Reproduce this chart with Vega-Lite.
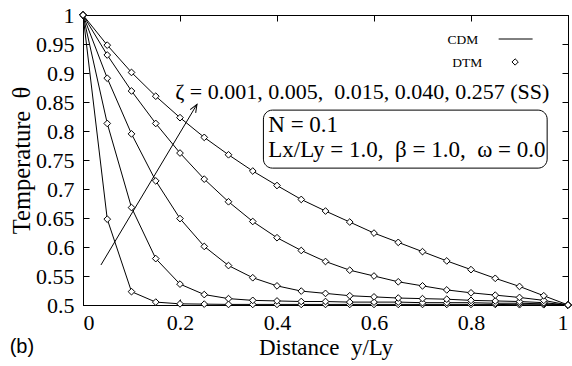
{
  "$schema": "https://vega.github.io/schema/vega-lite/v6.json",
  "width": 485,
  "height": 290,
  "autosize": {"type": "none"},
  "padding": {"left": 83, "top": 15, "right": 4, "bottom": 61},
  "background": "white",
  "config": {
    "view": {"stroke": "black", "strokeWidth": 1},
    "axis": {
      "grid": false,
      "domainColor": "black",
      "tickColor": "black",
      "labelColor": "black",
      "titleColor": "black",
      "labelFont": "Liberation Serif",
      "titleFont": "Liberation Serif",
      "labelFontSize": 22,
      "titleFontSize": 23,
      "titleFontWeight": "normal",
      "tickSize": -6
    }
  },
  "datasets": {
    "curves": [
      {"zeta": "0.001", "x": 0, "y": 1}, {"zeta": "0.001", "x": 0.05, "y": 0.648}, {"zeta": "0.001", "x": 0.1, "y": 0.523}, {"zeta": "0.001", "x": 0.15, "y": 0.505}, {"zeta": "0.001", "x": 0.2, "y": 0.502}, {"zeta": "0.001", "x": 0.25, "y": 0.5015}, {"zeta": "0.001", "x": 0.3, "y": 0.501}, {"zeta": "0.001", "x": 0.35, "y": 0.501}, {"zeta": "0.001", "x": 0.4, "y": 0.501}, {"zeta": "0.001", "x": 0.45, "y": 0.501}, {"zeta": "0.001", "x": 0.5, "y": 0.501}, {"zeta": "0.001", "x": 0.55, "y": 0.501}, {"zeta": "0.001", "x": 0.6, "y": 0.501}, {"zeta": "0.001", "x": 0.65, "y": 0.501}, {"zeta": "0.001", "x": 0.7, "y": 0.501}, {"zeta": "0.001", "x": 0.75, "y": 0.501}, {"zeta": "0.001", "x": 0.8, "y": 0.501}, {"zeta": "0.001", "x": 0.85, "y": 0.501}, {"zeta": "0.001", "x": 0.9, "y": 0.5005}, {"zeta": "0.001", "x": 0.95, "y": 0.5005}, {"zeta": "0.001", "x": 1, "y": 0.5},
      {"zeta": "0.005", "x": 0, "y": 1}, {"zeta": "0.005", "x": 0.05, "y": 0.813}, {"zeta": "0.005", "x": 0.1, "y": 0.668}, {"zeta": "0.005", "x": 0.15, "y": 0.58}, {"zeta": "0.005", "x": 0.2, "y": 0.536}, {"zeta": "0.005", "x": 0.25, "y": 0.518}, {"zeta": "0.005", "x": 0.3, "y": 0.511}, {"zeta": "0.005", "x": 0.35, "y": 0.508}, {"zeta": "0.005", "x": 0.4, "y": 0.507}, {"zeta": "0.005", "x": 0.45, "y": 0.506}, {"zeta": "0.005", "x": 0.5, "y": 0.506}, {"zeta": "0.005", "x": 0.55, "y": 0.505}, {"zeta": "0.005", "x": 0.6, "y": 0.505}, {"zeta": "0.005", "x": 0.65, "y": 0.505}, {"zeta": "0.005", "x": 0.7, "y": 0.504}, {"zeta": "0.005", "x": 0.75, "y": 0.504}, {"zeta": "0.005", "x": 0.8, "y": 0.504}, {"zeta": "0.005", "x": 0.85, "y": 0.503}, {"zeta": "0.005", "x": 0.9, "y": 0.503}, {"zeta": "0.005", "x": 0.95, "y": 0.502}, {"zeta": "0.005", "x": 1, "y": 0.5},
      {"zeta": "0.015", "x": 0, "y": 1}, {"zeta": "0.015", "x": 0.05, "y": 0.891}, {"zeta": "0.015", "x": 0.1, "y": 0.795}, {"zeta": "0.015", "x": 0.15, "y": 0.714}, {"zeta": "0.015", "x": 0.2, "y": 0.649}, {"zeta": "0.015", "x": 0.25, "y": 0.601}, {"zeta": "0.015", "x": 0.3, "y": 0.568}, {"zeta": "0.015", "x": 0.35, "y": 0.547}, {"zeta": "0.015", "x": 0.4, "y": 0.533}, {"zeta": "0.015", "x": 0.45, "y": 0.524}, {"zeta": "0.015", "x": 0.5, "y": 0.52}, {"zeta": "0.015", "x": 0.55, "y": 0.516}, {"zeta": "0.015", "x": 0.6, "y": 0.514}, {"zeta": "0.015", "x": 0.65, "y": 0.512}, {"zeta": "0.015", "x": 0.7, "y": 0.511}, {"zeta": "0.015", "x": 0.75, "y": 0.51}, {"zeta": "0.015", "x": 0.8, "y": 0.508}, {"zeta": "0.015", "x": 0.85, "y": 0.507}, {"zeta": "0.015", "x": 0.9, "y": 0.506}, {"zeta": "0.015", "x": 0.95, "y": 0.504}, {"zeta": "0.015", "x": 1, "y": 0.5},
      {"zeta": "0.040", "x": 0, "y": 1}, {"zeta": "0.040", "x": 0.05, "y": 0.931}, {"zeta": "0.040", "x": 0.1, "y": 0.869}, {"zeta": "0.040", "x": 0.15, "y": 0.813}, {"zeta": "0.040", "x": 0.2, "y": 0.762}, {"zeta": "0.040", "x": 0.25, "y": 0.717}, {"zeta": "0.040", "x": 0.3, "y": 0.678}, {"zeta": "0.040", "x": 0.35, "y": 0.644}, {"zeta": "0.040", "x": 0.4, "y": 0.616}, {"zeta": "0.040", "x": 0.45, "y": 0.594}, {"zeta": "0.040", "x": 0.5, "y": 0.575}, {"zeta": "0.040", "x": 0.55, "y": 0.56}, {"zeta": "0.040", "x": 0.6, "y": 0.55}, {"zeta": "0.040", "x": 0.65, "y": 0.54}, {"zeta": "0.040", "x": 0.7, "y": 0.533}, {"zeta": "0.040", "x": 0.75, "y": 0.526}, {"zeta": "0.040", "x": 0.8, "y": 0.521}, {"zeta": "0.040", "x": 0.85, "y": 0.517}, {"zeta": "0.040", "x": 0.9, "y": 0.513}, {"zeta": "0.040", "x": 0.95, "y": 0.508}, {"zeta": "0.040", "x": 1, "y": 0.5},
      {"zeta": "0.257", "x": 0, "y": 1}, {"zeta": "0.257", "x": 0.05, "y": 0.948}, {"zeta": "0.257", "x": 0.1, "y": 0.901}, {"zeta": "0.257", "x": 0.15, "y": 0.86}, {"zeta": "0.257", "x": 0.2, "y": 0.823}, {"zeta": "0.257", "x": 0.25, "y": 0.789}, {"zeta": "0.257", "x": 0.3, "y": 0.759}, {"zeta": "0.257", "x": 0.35, "y": 0.731}, {"zeta": "0.257", "x": 0.4, "y": 0.706}, {"zeta": "0.257", "x": 0.45, "y": 0.682}, {"zeta": "0.257", "x": 0.5, "y": 0.662}, {"zeta": "0.257", "x": 0.55, "y": 0.643}, {"zeta": "0.257", "x": 0.6, "y": 0.624}, {"zeta": "0.257", "x": 0.65, "y": 0.608}, {"zeta": "0.257", "x": 0.7, "y": 0.592}, {"zeta": "0.257", "x": 0.75, "y": 0.576}, {"zeta": "0.257", "x": 0.8, "y": 0.561}, {"zeta": "0.257", "x": 0.85, "y": 0.546}, {"zeta": "0.257", "x": 0.9, "y": 0.532}, {"zeta": "0.257", "x": 0.95, "y": 0.516}, {"zeta": "0.257", "x": 1, "y": 0.5}
    ],
    "arrow": [{"x": 0.037, "y": 0.569}, {"x": 0.235, "y": 0.846}],
    "arrowhead": [{"x": 0.235, "y": 0.846}],
    "zetaLabel": [{"x": 0.19, "y": 0.855, "label": "ζ = 0.001, 0.005,\u00a0 0.015, 0.040, 0.257 (SS)"}],
    "box": [{"x": 0.372, "x2": 0.957, "y": 0.836, "y2": 0.736}],
    "boxText": [
      {"x": 0.382, "y": 0.799, "label": "N = 0.1"},
      {"x": 0.382, "y": 0.756, "label": "Lx/Ly = 1.0,\u00a0 β = 1.0,\u00a0 ω = 0.0"}
    ],
    "legendText": [
      {"x": 0.815, "y": 0.957, "label": "CDM"},
      {"x": 0.823, "y": 0.917, "label": "DTM"}
    ],
    "legendLine": [{"x": 0.857, "y": 0.9586}, {"x": 0.927, "y": 0.9586}],
    "legendPoint": [{"x": 0.891, "y": 0.919}],
    "panel": [{"x": -0.126, "y": 0.428, "label": "(b)"}]
  },
  "layer": [
    {
      "data": {"name": "curves"},
      "mark": {"type": "line", "color": "black", "strokeWidth": 1},
      "encoding": {
        "x": {"field": "x", "type": "quantitative", "scale": {"domain": [0, 1], "nice": false},
              "axis": {"orient": "bottom", "values": [0, 0.2, 0.4, 0.6, 0.8, 1], "format": "~g", "labelPadding": 13, "title": "Distance\u00a0 y/Ly", "titlePadding": 3}},
        "y": {"field": "y", "type": "quantitative", "scale": {"domain": [0.5, 1], "nice": false, "zero": false},
              "axis": {"orient": "left", "values": [0.5, 0.55, 0.6, 0.65, 0.7, 0.75, 0.8, 0.85, 0.9, 0.95, 1], "format": "~g", "labelPadding": 15, "title": "Temperature\u00a0 θ", "titleFontSize": 24.5, "titlePadding": 1}},
        "detail": {"field": "zeta"}
      }
    },
    {
      "data": {"name": "curves"},
      "mark": {"type": "point", "shape": "diamond", "filled": false, "fill": "white", "fillOpacity": 1, "stroke": "black", "strokeWidth": 1, "size": 45, "opacity": 1},
      "encoding": {
        "x": {"field": "x", "type": "quantitative", "axis": {"orient": "top", "values": [0, 0.2, 0.4, 0.6, 0.8, 1], "labels": false, "title": null}},
        "y": {"field": "y", "type": "quantitative", "axis": {"orient": "right", "values": [0.5, 0.55, 0.6, 0.65, 0.7, 0.75, 0.8, 0.85, 0.9, 0.95, 1], "labels": false, "title": null}}
      }
    },
    {
      "data": {"name": "arrow"},
      "mark": {"type": "line", "color": "black", "strokeWidth": 1},
      "encoding": {
        "x": {"field": "x", "type": "quantitative", "axis": null},
        "y": {"field": "y", "type": "quantitative", "axis": null}
      }
    },
    {
      "data": {"name": "arrowhead"},
      "mark": {"type": "point", "shape": "M -0.4 1 L 0 0 L 0.4 1", "filled": false, "stroke": "black", "strokeWidth": 1, "size": 256, "angle": 30.5, "opacity": 1},
      "encoding": {
        "x": {"field": "x", "type": "quantitative", "axis": null},
        "y": {"field": "y", "type": "quantitative", "axis": null}
      }
    },
    {
      "data": {"name": "zetaLabel"},
      "mark": {"type": "text", "align": "left", "baseline": "alphabetic", "font": "Liberation Serif", "fontSize": 22, "color": "black"},
      "encoding": {
        "x": {"field": "x", "type": "quantitative", "axis": null},
        "y": {"field": "y", "type": "quantitative", "axis": null},
        "text": {"field": "label"}
      }
    },
    {
      "data": {"name": "box"},
      "mark": {"type": "rect", "fill": "white", "stroke": "black", "strokeWidth": 1, "cornerRadius": 9},
      "encoding": {
        "x": {"field": "x", "type": "quantitative", "axis": null},
        "x2": {"field": "x2"},
        "y": {"field": "y", "type": "quantitative", "axis": null},
        "y2": {"field": "y2"}
      }
    },
    {
      "data": {"name": "boxText"},
      "mark": {"type": "text", "align": "left", "baseline": "alphabetic", "font": "Liberation Serif", "fontSize": 23, "color": "black"},
      "encoding": {
        "x": {"field": "x", "type": "quantitative", "axis": null},
        "y": {"field": "y", "type": "quantitative", "axis": null},
        "text": {"field": "label"}
      }
    },
    {
      "data": {"name": "legendText"},
      "mark": {"type": "text", "align": "right", "baseline": "middle", "font": "Liberation Serif", "fontSize": 13.5, "color": "black"},
      "encoding": {
        "x": {"field": "x", "type": "quantitative", "axis": null},
        "y": {"field": "y", "type": "quantitative", "axis": null},
        "text": {"field": "label"}
      }
    },
    {
      "data": {"name": "legendLine"},
      "mark": {"type": "line", "color": "black", "strokeWidth": 1},
      "encoding": {
        "x": {"field": "x", "type": "quantitative", "axis": null},
        "y": {"field": "y", "type": "quantitative", "axis": null}
      }
    },
    {
      "data": {"name": "legendPoint"},
      "mark": {"type": "point", "shape": "diamond", "filled": false, "fill": "white", "stroke": "black", "strokeWidth": 1, "size": 40, "opacity": 1},
      "encoding": {
        "x": {"field": "x", "type": "quantitative", "axis": null},
        "y": {"field": "y", "type": "quantitative", "axis": null}
      }
    },
    {
      "data": {"name": "panel"},
      "mark": {"type": "text", "align": "center", "baseline": "middle", "font": "Liberation Sans", "fontSize": 20, "color": "black"},
      "encoding": {
        "x": {"field": "x", "type": "quantitative", "axis": null},
        "y": {"field": "y", "type": "quantitative", "axis": null},
        "text": {"field": "label"}
      }
    }
  ],
  "resolve": {"axis": {"x": "independent", "y": "independent"}}
}
